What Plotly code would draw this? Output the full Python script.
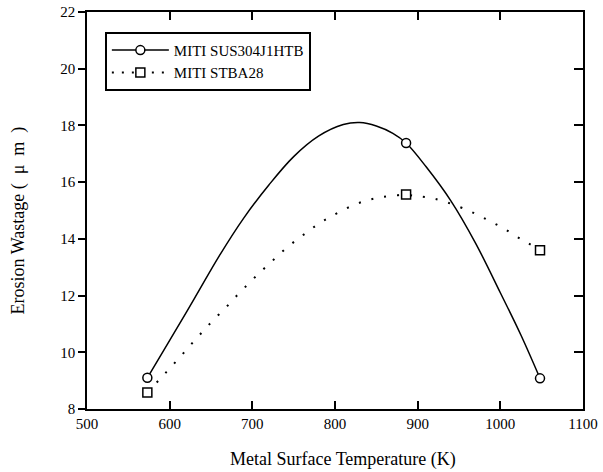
import plotly.graph_objects as go

# Measured points
temp_sus = [573, 886, 1048]
wast_sus = [9.1, 17.38, 9.08]
temp_stba = [573, 886, 1048]
wast_stba = [8.58, 15.56, 13.6]

# Fitted curves
curve_sus_x = [573, 600, 630, 660, 690, 720, 750, 780, 810, 830, 850, 870, 886,
               910, 940, 970, 1000, 1025, 1048]
curve_sus_y = [9.1, 10.42, 11.9, 13.4, 14.75, 15.9, 16.9, 17.62, 18.03, 18.10, 17.98,
               17.72, 17.38, 16.55, 15.35, 13.85, 12.1, 10.6, 9.08]

curve_stba_x = [573, 588, 601, 614, 626, 639, 652, 667, 680, 695, 709, 723, 737, 752, 767,
                781, 795, 810, 825, 840, 854, 868, 886, 899, 913, 929, 958, 973, 989, 1004,
                1018, 1033, 1048]
curve_stba_y = [8.6, 9.05, 9.46, 9.88, 10.28, 10.70, 11.11, 11.55, 11.96, 12.41, 12.81,
                13.19, 13.57, 13.93, 14.25, 14.55, 14.78, 15.02, 15.22, 15.37, 15.46, 15.52,
                15.55, 15.51, 15.46, 15.35, 15.04, 14.84, 14.60, 14.37, 14.11, 13.86, 13.6]

series_names = ["MITI SUS304J1HTB", "MITI STBA28"]
x_ticks = [500, 600, 700, 800, 900, 1000, 1100]
y_ticks = [8, 10, 12, 14, 16, 18, 20, 22]
x_title = "Metal Surface Temperature (K)"
y_title = "Erosion Wastage (\u2002μ\u2002m\u2002)"

FONT = "Liberation Serif"
fig = go.Figure()

fig.add_trace(go.Scatter(x=curve_sus_x, y=curve_sus_y, mode="lines", line_shape="spline",
                         line=dict(color="black", width=1.5), showlegend=False, hoverinfo="skip"))
fig.add_trace(go.Scatter(x=curve_stba_x, y=curve_stba_y, mode="lines", line_shape="spline",
                         line=dict(color="black", width=2, dash="2px,11px"),
                         showlegend=False, hoverinfo="skip"))
fig.add_trace(go.Scatter(x=temp_sus, y=wast_sus, mode="markers",
                         marker=dict(symbol="circle", size=9, color="white",
                                     line=dict(color="black", width=1.5)),
                         showlegend=False))
fig.add_trace(go.Scatter(x=temp_stba, y=wast_stba, mode="markers", yaxis="y2",
                         marker=dict(symbol="square", size=9, color="white",
                                     line=dict(color="black", width=1.5)),
                         showlegend=False))
# legend entries
fig.add_trace(go.Scatter(x=[None], y=[None], mode="lines+markers", name=series_names[0],
                         line=dict(color="black", width=1.5),
                         marker=dict(symbol="circle", size=9, color="white",
                                     line=dict(color="black", width=1.5))))
fig.add_trace(go.Scatter(x=[None], y=[None], mode="lines+markers", name=series_names[1],
                         line=dict(color="black", width=2, dash="2px,8px"),
                         marker=dict(symbol="square", size=9, color="white",
                                     line=dict(color="black", width=1.5))))

fig.update_layout(
    width=603, height=472,
    margin=dict(l=87, r=20, t=12, b=63),
    paper_bgcolor="white", plot_bgcolor="white",
    font=dict(family=FONT, size=15, color="black"),
    xaxis=dict(range=[500, 1100], tickvals=x_ticks, ticks="inside", ticklen=8,
               tickwidth=1.5, tickcolor="black", mirror="ticks", showline=True,
               linecolor="black", linewidth=1.5, showgrid=False, zeroline=False,
               automargin=False, tickfont=dict(size=15), ticklabeloverflow="allow"),
    yaxis=dict(range=[8, 22], tickvals=y_ticks, ticks="outside", ticklen=7,
               tickwidth=1.5, tickcolor="black", mirror=True, showline=True,
               linecolor="black", linewidth=1.5, showgrid=False, zeroline=False,
               automargin=False, tickfont=dict(size=15), ticklabeloverflow="allow"),
    yaxis2=dict(range=[8, 22], tickvals=y_ticks, overlaying="y", side="right",
                ticks="inside", ticklen=9, tickwidth=1.5, tickcolor="black",
                showticklabels=False, showgrid=False, zeroline=False, showline=False,
                automargin=False),
    legend=dict(x=0.036, y=0.95, xanchor="left", yanchor="top", bgcolor="white",
                bordercolor="black", borderwidth=2, font=dict(size=15),
                tracegroupgap=0, itemwidth=57),
    showlegend=True,
    annotations=[
        dict(text=x_title, xref="paper", yref="paper", x=0.516, y=-0.126,
             xanchor="center", yanchor="middle", showarrow=False, font=dict(size=18)),
        dict(text=y_title, xref="paper", yref="paper", x=-0.138, y=0.4736,
             xanchor="center", yanchor="middle", showarrow=False, textangle=-90,
             font=dict(size=18)),
    ],
)

fig.write_html("out.html", config={"displayModeBar": False},
               post_script="document.body.style.margin='0';")
